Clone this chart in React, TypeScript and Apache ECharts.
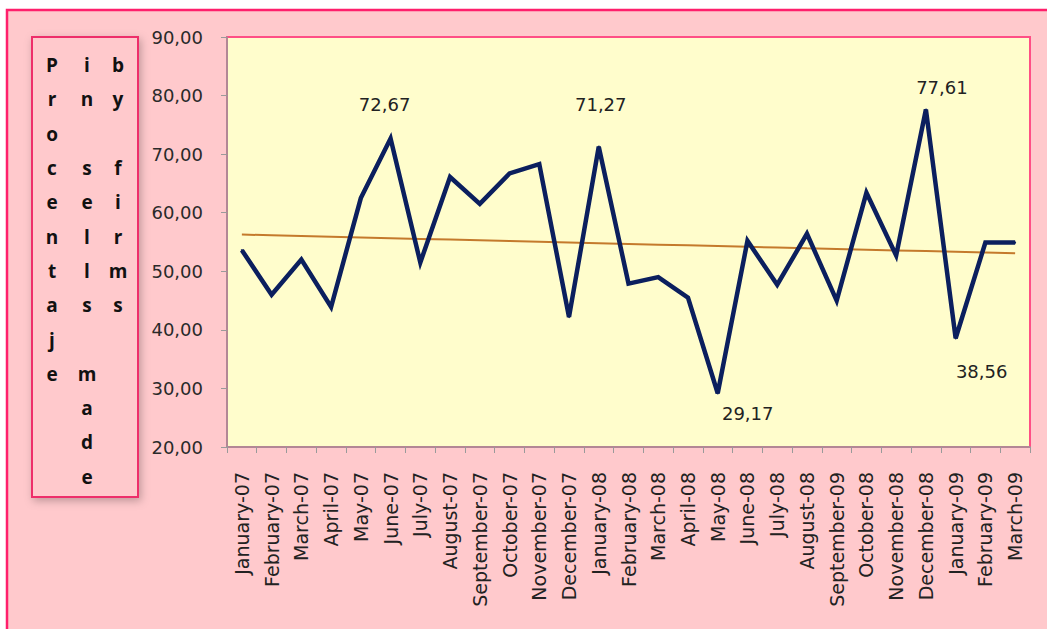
import React, { useEffect, useRef } from "react";
import * as echarts from "echarts";

const categories = [
  "January-07", "February-07", "March-07", "April-07", "May-07", "June-07", "July-07",
  "August-07", "September-07", "October-07", "November-07", "December-07", "January-08",
  "February-08", "March-08", "April-08", "May-08", "June-08", "July-08", "August-08",
  "September-09", "October-08", "November-08", "December-08", "January-09", "February-09", "March-09",
];

const values = [
  53.6, 46.0, 52.0, 43.9, 62.5, 72.67, 51.5, 66.1, 61.5, 66.7, 68.3, 42.2, 71.27,
  47.9, 49.0, 45.5, 29.17, 55.2, 47.7, 56.4, 45.0, 63.4, 52.7, 77.61, 38.56, 54.9, 54.9,
];

// indices of labelled points
const labelledIdx = [5, 12, 16, 23, 24];

const yTicks = { min: 20, max: 90, interval: 10 };

const titleColumns = ["Procentaje", "in sells made", "by firms"];

const fmt = (v: number) => v.toFixed(2).replace(".", ",");

function trend(vals: number[]): number[] {
  const n = vals.length;
  let sx = 0, sy = 0, sxy = 0, sxx = 0;
  vals.forEach((y, i) => { sx += i; sy += y; sxy += i * y; sxx += i * i; });
  const b = (n * sxy - sx * sy) / (n * sxx - sx * sx);
  const a = (sy - b * sx) / n;
  return vals.map((_, i) => +(a + b * i).toFixed(3));
}

export default function App() {
  const ref = useRef<HTMLDivElement>(null);
  useEffect(() => {
    document.body.style.margin = "0";
    const chart = echarts.init(ref.current!, undefined, { renderer: "svg" });
    const labelCfg: Record<number, any> = {
      5: { position: "top", distance: 24, offset: [-6, 0] },
      12: { position: "top", distance: 32, offset: [2, 0] },
      16: { position: "bottom", distance: 10, offset: [30, 0] },
      23: { position: "top", distance: 12, offset: [16, 0] },
      24: { position: "bottom", distance: 23, offset: [26, 0] },
    };
    const seriesData = values.map((v, i) =>
      labelledIdx.includes(i)
        ? {
            value: v,
            label: {
              show: true,
              formatter: (p: any) => fmt(p.value),
              fontFamily: "DejaVu Sans",
              fontSize: 18,
              color: "#222",
              ...labelCfg[i],
            },
          }
        : v
    );
    const colText = titleColumns.map((t) => t.split("").join("\n"));
    const colX = [52, 87, 118];
    chart.setOption({
      animation: false,
      backgroundColor: "#ffffff",
      graphic: [
        {
          type: "rect",
          z: -10,
          shape: { x: 7, y: 10, width: 1100, height: 700 },
          style: { fill: "#FFC9CC", stroke: "#FF1F6B", lineWidth: 2.5 },
          silent: true,
        },
        {
          type: "rect",
          z: -9,
          shape: { x: 32, y: 37, width: 106, height: 460 },
          style: {
            fill: "#FFC9CC",
            stroke: "#EE2E6B",
            lineWidth: 2,
            shadowBlur: 8,
            shadowOffsetX: 2,
            shadowOffsetY: 3,
            shadowColor: "rgba(0,0,0,0.25)",
          },
          silent: true,
        },
        ...colText.map((t, i) => ({
          type: "text",
          z: 5,
          x: colX[i],
          y: 48,
          style: {
            text: t,
            fontFamily: "Open Sans",
            fontWeight: "bold",
            fontSize: 19,
            lineHeight: 34.3,
            fill: "#111",
            align: "center",
          },
        })),
      ],
      grid: {
        left: 227,
        right: 17,
        top: 37,
        bottom: 182,
        show: true,
        backgroundColor: "#FFFDCC",
        borderColor: "#FF4F86",
        borderWidth: 2,
      },
      xAxis: {
        type: "category",
        data: categories,
        boundaryGap: true,
        axisLine: { lineStyle: { color: "#9a9a9a", width: 1.5 } },
        axisTick: { show: true, length: 6, lineStyle: { color: "#9a9a9a" } },
        axisLabel: {
          interval: 0,
          rotate: 90,
          margin: 25,
          fontFamily: "DejaVu Sans",
          fontSize: 19,
          color: "#222",
        },
      },
      yAxis: {
        type: "value",
        min: yTicks.min,
        max: yTicks.max,
        interval: yTicks.interval,
        splitLine: { show: false },
        axisLine: { show: true, lineStyle: { color: "#9a9a9a", width: 1.5 } },
        axisTick: { show: true, length: 6, lineStyle: { color: "#9a9a9a" } },
        axisLabel: {
          margin: 24,
          formatter: (v: number) => fmt(v),
          fontFamily: "DejaVu Sans",
          fontSize: 18,
          color: "#2a2a2a",
        },
      },
      series: [
        {
          name: "trend",
          type: "line",
          data: trend(values),
          showSymbol: false,
          symbol: "none",
          lineStyle: { color: "#C47A2C", width: 2 },
          z: 2,
        },
        {
          name: "values",
          type: "line",
          data: seriesData,
          symbol: "circle",
          symbolSize: 2,
          showSymbol: true,
          itemStyle: { color: "#0B1F5E" },
          lineStyle: { color: "#0B1F5E", width: 4.5, join: "miter" },
          z: 3,
        },
      ],
    });
    return () => chart.dispose();
  }, []);
  return <div ref={ref} style={{ width: 1047, height: 629 }} />;
}
